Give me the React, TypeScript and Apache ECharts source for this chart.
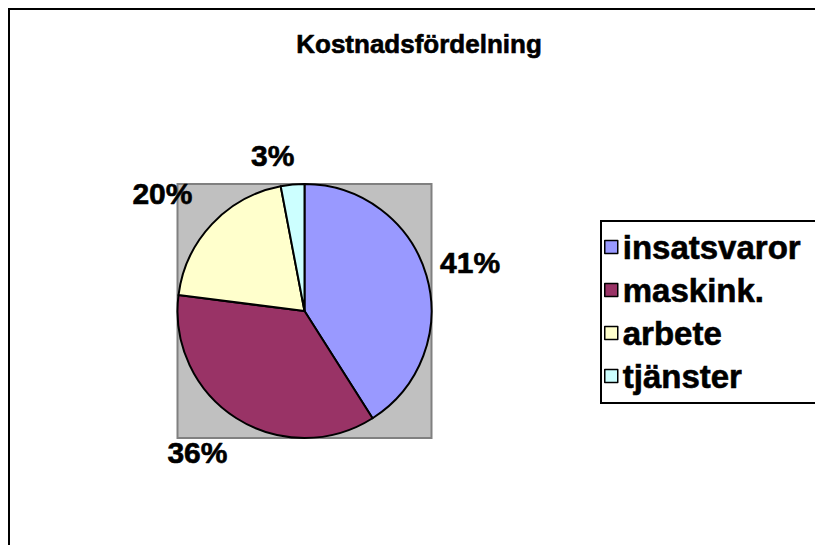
import React, { useEffect, useRef } from "react";
import * as echarts from "echarts";

const titleText = "Kostnadsfördelning";
const categories = ["insatsvaror", "maskink.", "arbete", "tjänster"];
const values = [41, 36, 20, 3];
const colors = ["#9999FF", "#993366", "#FFFFCC", "#CCFFFF"];

const FONT = "'Liberation Sans', Arial, sans-serif";
const CX = 304.5;
const CY = 311;
const R = 127;

export default function App() {
  const ref = useRef<HTMLDivElement>(null);
  useEffect(() => {
    if (!ref.current) return;
    const chart = echarts.init(ref.current, undefined, { renderer: "svg" });
    const total = values.reduce((a, b) => a + b, 0);
    const labelLayout = (params: any) => {
      const i = params.dataIndex;
      let before = 0;
      for (let k = 0; k < i; k++) before += values[k];
      const f = (before + values[i] / 2) / total;
      const th = 2 * Math.PI * f;
      const dx = Math.sin(th);
      const dy = -Math.cos(th);
      const w = params.labelRect.width;
      const h = params.labelRect.height;
      const half = Math.abs(dx) * w / 2 + Math.abs(dy) * h / 2;
      const dist = R + 12 + half;
      const sideShift = dx < 0 ? -17 : 0;
      return {
        x: CX + dx * dist + sideShift,
        y: CY + dy * dist,
        align: "center",
        verticalAlign: "middle",
      };
    };
    const boldText = { textBorderColor: "#000", textBorderWidth: 0.6 };
    chart.setOption({
      animation: false,
      backgroundColor: "#ffffff",
      title: {
        text: titleText,
        left: 419,
        top: 31,
        padding: 0,
        textAlign: "center",
        textStyle: { fontFamily: FONT, fontWeight: "bold", fontSize: 26, color: "#000", ...boldText },
      },
      graphic: [
        {
          type: "rect",
          z: 0,
          shape: { x: 9, y: 9, width: 1200, height: 1200 },
          style: { fill: "#ffffff", stroke: "#000000", lineWidth: 2 },
        },
        {
          type: "rect",
          z: 1,
          shape: { x: CX - R, y: CY - R, width: 2 * R, height: 2 * R },
          style: { fill: "#C0C0C0", stroke: "#808080", lineWidth: 2 },
        },
      ],
      legend: {
        orient: "vertical",
        left: 601,
        top: 221,
        padding: [8, 24, 9, 3],
        itemGap: 7,
        itemWidth: 13,
        itemHeight: 13,
        itemTextGap: 3,
        borderColor: "#000",
        borderWidth: 2,
        backgroundColor: "#fff",
        icon: "rect",
        itemStyle: { borderColor: "#000", borderWidth: 1.5 },
        textStyle: { fontFamily: FONT, fontWeight: "bold", fontSize: 33, lineHeight: 36, color: "#000", ...boldText },
        data: categories,
      },
      series: [
        {
          type: "pie",
          center: [CX, CY],
          radius: R,
          startAngle: 90,
          clockwise: true,
          z: 3,
          color: colors,
          itemStyle: { borderColor: "#000", borderWidth: 2 },
          label: {
            show: true,
            position: "outside",
            formatter: (p: any) => Math.round(p.percent) + "%",
            fontFamily: FONT,
            fontWeight: "bold",
            fontSize: 30,
            color: "#000",
            ...boldText,
          },
          labelLine: { show: false },
          labelLayout,
          emphasis: { disabled: true },
          data: categories.map((c, i) => ({ name: c, value: values[i] })),
        },
      ],
    });
    return () => chart.dispose();
  }, []);
  return (
    <div
      ref={ref}
      style={{ position: "fixed", left: 0, top: 0, width: 815, height: 545 }}
    />
  );
}
